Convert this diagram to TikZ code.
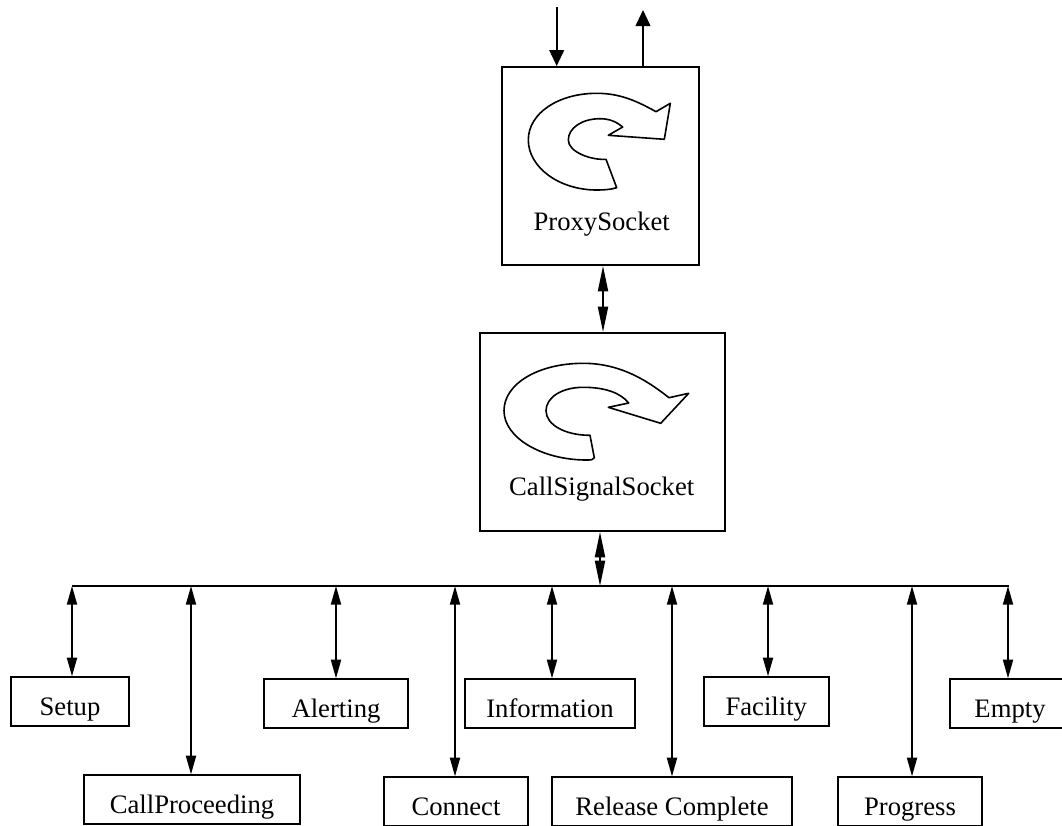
\documentclass[tikz,border=0pt]{standalone}
\usepackage{fontspec}
\setmainfont{Liberation Serif}
\usetikzlibrary{arrows.meta}
\tikzset{
    socket/.style={draw,line width=1.4pt,inner sep=0pt},
    msgbox/.style={draw,line width=1.4pt,inner sep=0pt,minimum height=36.3pt,text height=21pt,text depth=0pt},
    curl/.style={line width=1.2pt,line join=round},
    link/.style={line width=1.4pt},
    onetip/.style={-{Triangle[length=12pt,width=11pt]}},
    twotip/.style={{Triangle[length=14pt,width=7.5pt]}-{Triangle[length=14pt,width=7.5pt]}},
    longtip/.style={{Triangle[length=19pt,width=7.5pt]}-{Triangle[length=19pt,width=7.5pt]}},
}
\begin{document}
\begin{tikzpicture}[x=.75pt,y=-.75pt,font=\fontsize{20pt}{24pt}\selectfont]
    \useasboundingbox (0,0) rectangle (1062,825);
    \node[socket,minimum width=147.5pt,minimum height=148.5pt] (proxy) at (600.3,166) {};
    \node[socket,minimum width=183.5pt,minimum height=148.5pt] (callsignal) at (602.3,432) {};
    \node (proxylabel) at (601.7,224.5) {ProxySocket};
    \node (callsignallabel) at (601.7,489) {CallSignalSocket};
    \coordinate (in) at (556.7,7);
    \coordinate (out) at (643,10);
    \draw[link,onetip] (in) -- (in |- proxy.north);
    \draw[link,onetip] (out |- proxy.north) -- (out);
    \draw[curl]
    (616.7,187.7)..controls+(-6,2) and+(6,0)..(596.7,190)
    ..controls+(-38,0) and+(0,27)..(528.3,140)
    ..controls+(0,-27) and+(-38,0)..(596.7,93.3)
    ..controls+(24,0) and+(-18,-10)..(656,111.7)
    --(670.3,103.3)--(664.3,139.3)--(608.3,135.3)--(622.7,127)
    ..controls+(-6,-5) and+(10,0)..(600,118.7)
    ..controls+(-18,0) and+(0,-12)..(568.3,140)
    ..controls+(0,12) and+(-15,1)..(606,159.3)
    --cycle;
    \draw[curl]
    (594.3,457.7)..controls+(-2,2) and+(6,0)..(586.7,460)
    ..controls+(-45,0) and+(0,27)..(504,410.7)
    ..controls+(0,-27) and+(-45,0)..(583.3,363.3)
    ..controls+(40,0) and+(-18,-14)..(669,397.7)
    --(688.7,393.3)--(660.7,423.3)--(608.3,407.3)--(628.7,403)
    ..controls+(-8,-10) and+(22,0)..(583.3,387.3)
    ..controls+(-22,0) and+(0,-13)..(546,410.7)
    ..controls+(0,14) and+(-25,0)..(590,435.3)
    --cycle;
    \coordinate (busleft) at (72,586);
    \coordinate (busright) at (1009,586);
    \coordinate (buslink) at (600,586);
    \coordinate (proxylink) at (603,300);
    \draw[link] (busleft) -- (busright);
    \draw[link,longtip] (proxylink |- proxy.south) -- (proxylink |- callsignal.north);
    \draw[link,longtip] (buslink |- callsignal.south) -- (buslink);
    % messages
    \foreach \name/\txt/\cx/\cy/\boxw/\tapx in {
        setup/Setup/70/701.5/89/72,
        callproceeding/CallProceeding/192/799.5/162/191,
        alerting/Alerting/336/703.5/108.4/336,
        connect/Connect/456/801.5/108.4/455,
        information/Information/550/703.5/127/552,
        releasecomplete/Release Complete/672/801.5/180.4/672,
        facility/Facility/766.3/701.5/93.5/768,
        progress/Progress/910/801.5/108.3/912,
        empty/Empty/1010/703.5/90/1008}
    {
        \node[msgbox,minimum width=\boxw pt] (\name) at (\cx,\cy) {\txt};
        \coordinate (\name tap) at (\tapx,586);
        \draw[link,twotip] (\name tap) -- (\name tap |- \name.north);
    }
\end{tikzpicture}
\end{document}
